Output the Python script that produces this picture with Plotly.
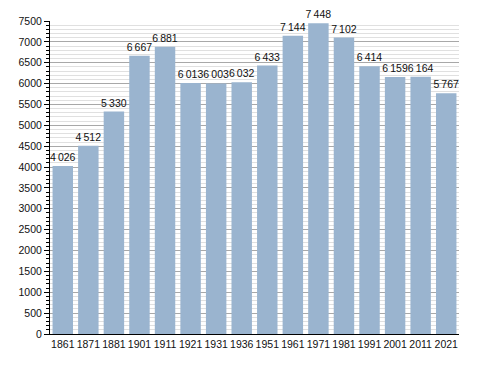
import plotly.graph_objects as go

years = ["1861", "1871", "1881", "1901", "1911", "1921", "1931", "1936",
         "1951", "1961", "1971", "1981", "1991", "2001", "2011", "2021"]
population = [4026, 4512, 5330, 6667, 6881, 6013, 6003, 6032,
              6433, 7144, 7448, 7102, 6414, 6159, 6164, 5767]
labels = [f"{v:,}".replace(",", "\u2009") for v in population]

fig = go.Figure()
fig.add_trace(go.Bar(
    x=years, y=population,
    text=labels, textposition="outside", cliponaxis=False, textangle=0,
    textfont=dict(size=10.5, color="#111"),
    marker=dict(color="#9AB4CF", line=dict(width=0)),
    width=0.8,
))
fig.update_layout(
    width=488, height=373,
    margin=dict(l=42, r=37, t=13, b=47, autoexpand=False),
    plot_bgcolor="white", paper_bgcolor="white",
    font=dict(family="Liberation Sans, Arial, sans-serif", size=10.5, color="#111"),
    showlegend=False,
    uniformtext=dict(minsize=10.5, mode="show"),
)
fig.update_xaxes(
    type="category", showline=True, linecolor="black", linewidth=1,
    ticks="", showgrid=False, tickfont=dict(size=10.5), tickangle=0,
    automargin=False,
)
fig.update_yaxes(
    range=[0, 7500], dtick=500, showline=True, linecolor="black", linewidth=1,
    ticks="outside", ticklen=5, tickcolor="black",
    showgrid=True, gridcolor="#a8a8a8", gridwidth=1,
    minor=dict(dtick=100, showgrid=True, gridcolor="#e0e0e0", ticks="outside",
               ticklen=3, tickcolor="black"),
    zeroline=False, tickfont=dict(size=10.5), automargin=False,
)
fig.write_html("out.html")
